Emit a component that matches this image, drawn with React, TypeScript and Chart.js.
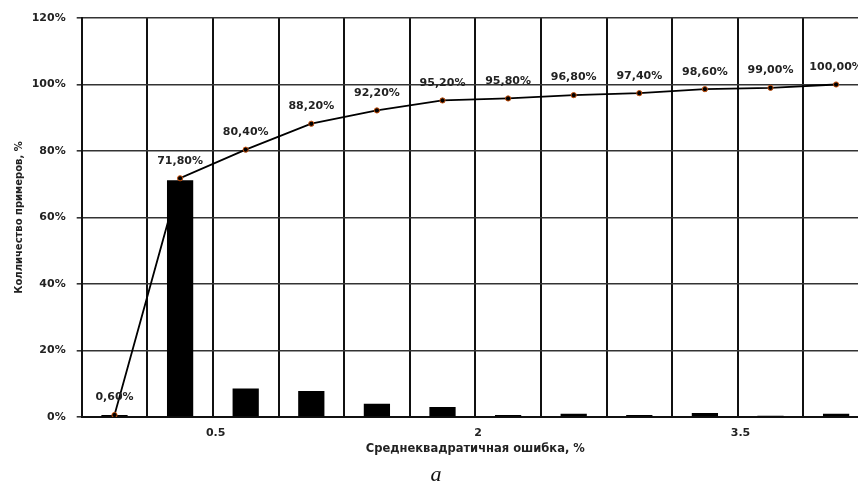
import React, { useEffect, useRef } from 'react';
import { Chart, registerables } from 'chart.js';

Chart.register(...registerables);

// Bin lower edges of the RMSE histogram (category axis)
const categories = ['-0.25', '0.125', '0.5', '0.875', '1.25', '1.625', '2', '2.375', '2.75', '3.125', '3.5', '3.875'];
// Tick labels that are actually printed under the axis
const xTickLabels = ['0.5', '2', '3.5'];
// Share of examples in each bin, %
const shareValues = [0.6, 71.2, 8.6, 7.8, 4.0, 3.0, 0.6, 1.0, 0.6, 1.2, 0.4, 1.0];
// Cumulative share, %
const cumulativeValues = [0.6, 71.8, 80.4, 88.2, 92.2, 95.2, 95.8, 96.8, 97.4, 98.6, 99.0, 100.0];

const yTitle = 'Колличество примеров, %';
const xTitle = 'Среднеквадратичная ошибка, %';
const caption = 'а';

const FONT = '"DejaVu Sans", Verdana, sans-serif';

const pointLabelPlugin = {
  id: 'pointLabels',
  afterDatasetsDraw(chart: any) {
    const ctx = chart.ctx;
    const meta = chart.getDatasetMeta(0);
    const data = chart.data.datasets[0].data as number[];
    ctx.save();
    ctx.font = `bold 11px ${FONT}`;
    ctx.fillStyle = '#222';
    ctx.textAlign = 'center';
    ctx.textBaseline = 'middle';
    meta.data.forEach((el: any, i: number) => {
      const txt = data[i].toFixed(2).replace('.', ',') + '%';
      ctx.fillText(txt, el.x, el.y - 17.5);
    });
    ctx.restore();
  },
};

export default function App() {
  const ref = useRef<HTMLCanvasElement>(null);

  useEffect(() => {
    if (!ref.current) return;
    const chart = new Chart(ref.current, {
      type: 'bar',
      data: {
        labels: categories,
        datasets: [
          {
            type: 'line',
            data: cumulativeValues,
            borderColor: '#000',
            borderWidth: 1.8,
            tension: 0,
            pointRadius: 2.6,
            pointBorderWidth: 1,
            pointBackgroundColor: '#000',
            pointBorderColor: '#c8530f',
            order: 0,
          } as any,
          {
            type: 'bar',
            data: shareValues,
            backgroundColor: '#000',
            borderWidth: 0,
            barPercentage: 0.4,
            categoryPercentage: 1,
            order: 1,
          },
        ],
      },
      options: {
        animation: false,
        responsive: false,
        events: [],
        layout: { padding: { left: 8, right: 11.1, top: 18, bottom: 22.4 } },
        plugins: {
          legend: { display: false },
          tooltip: { enabled: false },
        },
        scales: {
          x: {
            type: 'category',
            offset: true,
            afterFit: (scale: any) => {
              scale.height = 44.6;
            },
            grid: {
              offset: true,
              color: '#111',
              lineWidth: 2,
              drawTicks: false,
            },
            border: { color: '#111', width: 2 },
            ticks: {
              autoSkip: false,
              maxRotation: 0,
              padding: 9.4,
              labelOffset: -30,
              color: '#222',
              font: { family: FONT, size: 11, weight: 'bold' },
              callback: (_v: any, i: number) =>
                xTickLabels.includes(categories[i]) ? categories[i] : '',
            },
            title: {
              display: true,
              text: xTitle,
              color: '#222',
              font: { family: FONT, size: 11.5, weight: 'bold' },
              padding: { top: 4, bottom: 6 },
            },
          },
          y: {
            min: 0,
            max: 120,
            afterFit: (scale: any) => {
              scale.width = 73.7;
            },
            grid: {
              color: '#333',
              lineWidth: 1.6,
              tickLength: 5,
            },
            border: { color: '#111', width: 2 },
            ticks: {
              stepSize: 20,
              padding: 11,
              color: '#222',
              font: { family: FONT, size: 11, weight: 'bold' },
              callback: (v: any) => v + '%',
            },
            title: {
              display: true,
              text: yTitle,
              color: '#222',
              font: { family: FONT, size: 10, weight: 'bold' },
              padding: { top: 5, bottom: 5 },
            },
          },
        },
      },
      plugins: [pointLabelPlugin],
    });
    return () => chart.destroy();
  }, []);

  return (
    <div
      style={{
        position: 'fixed',
        left: 0,
        top: 0,
        width: 858,
        height: 484,
        overflow: 'hidden',
        background: '#fff',
      }}
    >
      <canvas ref={ref} width={880} height={484} style={{ display: 'block' }} />
      <div
        style={{
          position: 'absolute',
          left: 0,
          top: 463,
          width: 872,
          height: 22,
          lineHeight: '22px',
          textAlign: 'center',
          fontFamily: '"Liberation Serif", "Times New Roman", serif',
          fontStyle: 'italic',
          fontSize: 22,
          color: '#111',
        }}
      >
        {caption}
      </div>
    </div>
  );
}
